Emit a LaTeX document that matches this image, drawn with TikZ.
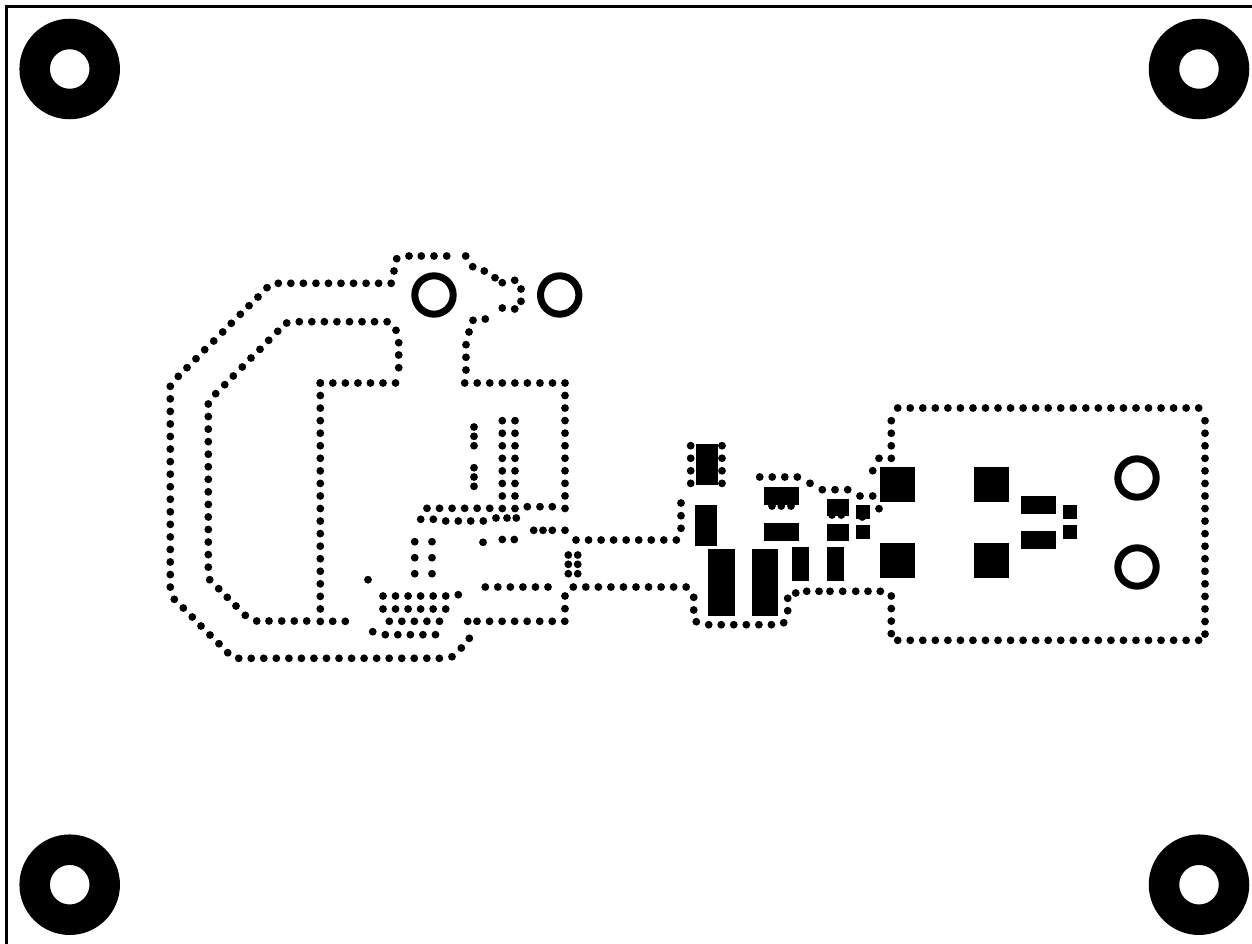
\documentclass[tikz,border=0pt]{standalone}
\tikzset{
  viadot/.style={fill=black},
  padrect/.style={fill=black},
  ringhole/.style={draw=black,line width=7pt},
  mounthole/.style={draw=black,line width=30.5pt},
  boardedge/.style={draw=black,line width=3pt}
}
% list of single dots
\newcommand\vialist[1]{\foreach \vx/\vy in {#1} {\fill[viadot] (\vx,\vy) circle (3.9);}}
% horizontal run: x0, y, last index
\newcommand\viarow[3]{\foreach \k in {0,...,#3} {\fill[viadot] ({#1+\k*12.54},#2) circle (3.9);}}
% vertical run: x, y0, last index
\newcommand\viacol[3]{\foreach \k in {0,...,#3} {\fill[viadot] (#1,{#2+\k*12.55}) circle (3.9);}}
\newcommand\pad[4]{\fill[padrect] (#1,#2) rectangle (#3,#4);}
\begin{document}
\begin{tikzpicture}[x=1pt,y=-1pt]
\useasboundingbox (0,0) rectangle (1252,944);
% board edge
\draw[boardedge] (6.7,944) -- (6.7,6.7) -- (1252,6.7);
% mounting holes
\foreach \hx/\hy in {69.7/69,1199/69,69.7/884.7,1199/884.7}
  {\draw[mounthole] (\hx,\hy) circle (35);}
% rings
\foreach \hx/\hy in {434/295,559.7/295,1137/478,1137/567}
  {\draw[ringhole] (\hx,\hy) circle (19.2);}
% pads
\pad{696}{444}{718}{485}
\pad{695}{505}{717}{546}
\pad{708}{549}{735}{616}
\pad{752}{549}{778}{616}
\pad{792}{547}{809}{581}
\pad{827}{547}{844}{581}
\pad{764}{487}{799}{505}
\pad{764}{523}{799}{541}
\pad{827}{499}{849}{516}
\pad{827}{524}{849}{541}
\pad{856}{505}{870}{519}
\pad{856}{525}{870}{539}
\pad{880}{467}{915}{502}
\pad{880}{543}{915}{578}
\pad{974}{467}{1009}{502}
\pad{974}{543}{1009}{578}
\pad{1021}{496}{1056}{514}
\pad{1021}{531}{1056}{549}
\pad{1063}{505}{1077}{519}
\pad{1063}{525}{1077}{539}
% outer loop
\viarow{278.3}{283.3}{9}
\vialist{394/271,396.7/258.7,409/256,421.3/256,434/256,446.7/256,465.7/256,472.7/266.7,484.3/271,495/277.7,502.3/282.7,514.7/280.3,521/289,521/301.3,514.7/309,502.3/308,485.3/319,473/320.3,469/332,466/344.7,466/357.3,466/370}
\viarow{464.7}{383}{8}
\viacol{565}{395.5}{9}
\vialist{267/287.7,258/297,249/305.7,240.3/314.3,231.3/323.3,222.7/332,213.7/341,204.7/349.7,196/358.7,187/367.7,178.3/376.3}
\viacol{170.3}{386.3}{16}
\vialist{174.3/599.3,183.3/608,192.3/617,201/626,210/635,219/643.7,227.7/652.7}
\viarow{238.7}{658.3}{16}
\vialist{452/656.7,461.3/648,469.3/638.3}
% inner loop
\vialist{286.7/323}
\viarow{299.3}{321.7}{7}
\vialist{396/330.3,398.7/342.7,398.7/355,398.7/367.7}
\viarow{320.3}{383}{6}
\viacol{320.3}{383}{19}
\vialist{332.7/621.3,345.3/621.3,306.7/621,294.3/621,281.7/621,269/621,256.7/621,245.3/615.3,236/606,227.3/597.3,218.7/588.7,209.7/579.7}
\viacol{208.3}{404}{13}
\vialist{277.7/331.3,268.7/340.3,260/349.3,251/358,242.3/367,233.3/376,224.7/384.7,215.7/393.7}
% centre stitching
\viacol{502.3}{420.7}{7}
\viacol{515}{420.7}{7}
\vialist{474/427,474/436.3,474/445.7,474/467.7,474/477,474/486.3}
\viarow{427}{508.3}{5}
\vialist{527.3/506.7,540/506.7,552.3/506.7}
\vialist{420.7/519.3,433.3/519.3,445.7/521,458.3/521,470.7/521,483.3/521,496/518,507/518,516.3/518}
\vialist{533.7/530.3,543/530.3,552.3/530.3,565/530.3}
\vialist{414.7/541.7,432/541.7,414.7/557.7,432/557.7,414.7/573.7,432/573.7}
\vialist{483/542.3,502.3/539.5,514.3/539.5}
\viarow{576}{540}{8}
\vialist{681/528.3,681/515.7,681/503}
\vialist{568.3/555,577.7/555,568.3/564.3,577.7/564.3,568.3/573.7,577.7/573.7}
\vialist{368/579.7}
\viarow{485.3}{587}{5}
\viarow{573.3}{587}{9}
\vialist{565/596,565/608.7}
\viarow{467.7}{621.3}{0}
\viarow{477}{621.3}{7}
\viarow{383}{596}{5}
\vialist{458.3/594.7}
\viarow{383}{609}{5}
\viarow{389.3}{621.3}{4}
\viarow{385.3}{634.7}{4}
\vialist{372.7/631.7}
% right group
\viacol{690.7}{445.7}{3}
\viacol{722}{445.7}{3}
\vialist{693.7/597.3,693.7/610,696.3/621.7}
\viarow{708.7}{624.7}{5}
\vialist{783.7/622.7,787.7/610.7,787.7/598.3,795.7/593,806.7/591.3,819/591.3,830/591.3,842.7/591.3,855.7/591.3,868/591.3,880.3/591.3}
\viacol{891.3}{596}{3}
\viarow{759.7}{477}{3}
\vialist{810/483.3,822.3/489.7,835/489.7,847.7/489.7,860/496,872.7/496,879/508.7,872.7/470.7,879/458.3}
\vialist{772/506,781.3/506,791/506,832/515,841.3/515,862.3/517}
\viacol{891.3}{420.7}{3}
\viarow{897.7}{408}{24}
\viarow{897.7}{640.3}{24}
\viacol{1205}{420.7}{17}
\end{tikzpicture}
\end{document}
